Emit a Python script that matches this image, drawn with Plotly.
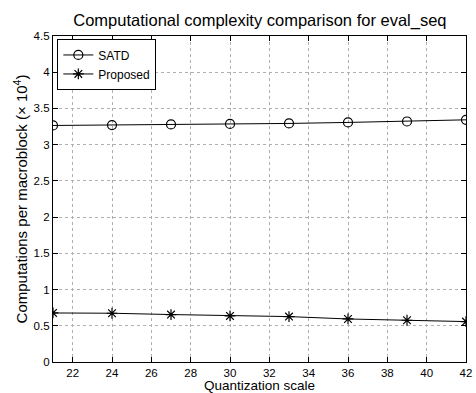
import plotly.graph_objects as go

qscale = [21, 24, 27, 30, 33, 36, 39, 42]
satd = [3.265, 3.27, 3.279, 3.287, 3.293, 3.307, 3.32, 3.343]
proposed = [0.677, 0.673, 0.655, 0.636, 0.627, 0.594, 0.576, 0.558]
xticks = [22, 24, 26, 28, 30, 32, 34, 36, 38, 40, 42]
yticks = [0, 0.5, 1, 1.5, 2, 2.5, 3, 3.5, 4, 4.5]
yticklabels = ["0", "0.5", "1", "1.5", "2", "2.5", "3", "3.5", "4", "4.5"]

font = "Liberation Sans, Arial, sans-serif"

fig = go.Figure()
fig.add_trace(go.Scatter(
    x=qscale, y=satd, name="SATD", mode="lines+markers",
    line=dict(color="black", width=1),
    marker=dict(symbol="circle-open", size=9, color="black", line=dict(width=1.2)),
))
fig.add_trace(go.Scatter(
    x=qscale, y=proposed, name="Proposed", mode="lines+markers",
    line=dict(color="black", width=1),
    marker=dict(symbol="asterisk-open", size=9, color="black", line=dict(width=1.2)),
))

axis_common = dict(
    showline=True, linecolor="black", linewidth=1.2, mirror="ticks",
    ticks="inside", ticklen=5, tickcolor="black",
    showgrid=True, gridcolor="#b0b0b0", griddash="dot", gridwidth=1,
    zeroline=False, automargin=False,
    tickfont=dict(size=11.5, color="black", family=font),
)

fig.update_layout(
    width=476, height=393,
    margin=dict(l=53, r=10, t=36, b=31),
    paper_bgcolor="white", plot_bgcolor="white",
    font=dict(family=font, color="black"),
    title=dict(text="Computational complexity comparison for eval_seq",
               x=0.546, xanchor="center", xref="container",
               y=0.949, yanchor="middle", yref="container",
               font=dict(size=16.5, family=font, color="black")),
    xaxis=dict(range=[21, 42], tickvals=xticks, **axis_common),
    yaxis=dict(range=[0, 4.5], tickvals=yticks, ticktext=yticklabels,
               title=dict(text="Computations per macroblock (× 10<sup>4</sup>)", standoff=2,
                          font=dict(size=15, family=font, color="black")),
               **axis_common),
    legend=dict(x=0.01, y=0.99, xanchor="left", yanchor="top",
                bgcolor="white", bordercolor="black", borderwidth=1.2,
                font=dict(size=12, family=font, color="black"),
                tracegroupgap=0, itemwidth=30),
    showlegend=True,
)

fig.add_annotation(text="Quantization scale", xref="paper", yref="paper",
                   x=0.5, y=0, xanchor="center", yanchor="top", yshift=-15,
                   borderpad=0, showarrow=False,
                   font=dict(size=13.5, family=font, color="black"))

fig.write_html("out.html", config={"displayModeBar": False},
               post_script="document.body.style.margin='0';")
